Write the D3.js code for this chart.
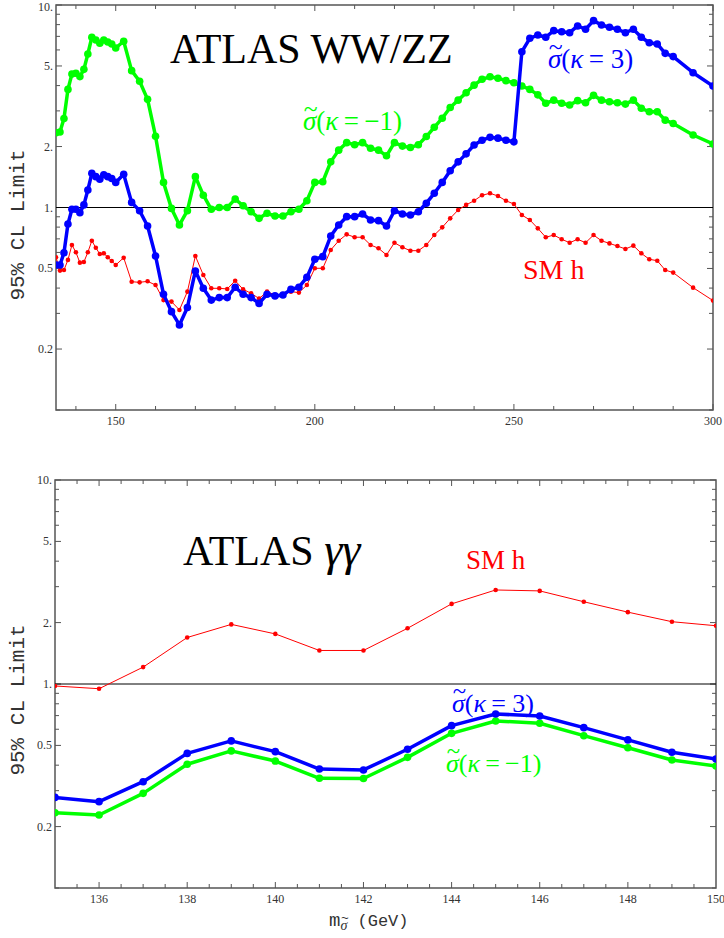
<!DOCTYPE html>
<html lang="en">
<head>
    <meta charset="UTF-8">
    <title>95% CL Limit - ATLAS WW/ZZ and gamma gamma</title>
    <script src="https://d3js.org/d3.v7.min.js"></script>
    <style>
        body { margin: 0; background: #fff; }
        svg { display: block; }
        .tick-label { font-family: "Liberation Serif", serif; font-size: 12px; fill: #333; }
        .ylab { font-family: "Liberation Mono", monospace; font-size: 21px; fill: #333; }
    </style>
</head>
<body>
    <div id="chart-container"></div>
    <script>
        // ---- data ----
        // top panel: ATLAS WW/ZZ
        const wwMass = [135, 136, 137, 138, 139, 140, 141, 142, 143, 144, 145, 146, 147, 148, 149, 150,
            152, 154, 156, 158, 160, 162, 164, 166, 168, 170, 172, 174, 176, 178, 180,
            182, 184, 186, 188, 190, 192, 194, 196, 198, 200, 202, 204, 206, 208, 210,
            212, 214, 216, 218, 220, 222, 224, 226, 228, 230, 232, 234, 236, 238, 240,
            242, 244, 246, 248, 250, 252, 254, 256, 258, 260, 262, 264, 266, 268, 270,
            272, 274, 276, 278, 280, 282, 284, 286, 288, 290, 295, 300];
        const wwKappaM1 = [2.34, 2.36, 2.75, 3.83, 4.56, 4.60, 4.43, 4.81, 5.73, 6.93, 6.72, 6.47, 6.72, 6.57, 6.42, 6.13,
            6.62, 4.74, 4.20, 3.42, 2.25, 1.33, 0.99, 0.82, 0.965, 1.42, 1.15, 0.98, 1.00, 1.00, 1.10,
            1.02, 0.953, 0.884, 0.936, 0.908, 0.908, 0.953, 0.98, 1.08, 1.33, 1.34, 1.68, 1.92, 2.09, 2.04,
            2.09, 1.96, 1.92, 1.80, 2.09, 2.01, 1.98, 2.04, 2.24, 2.49, 2.76, 3.12, 3.39, 3.69, 4.02,
            4.30, 4.42, 4.35, 4.23, 4.13, 3.98, 3.83, 3.60, 3.27, 3.39, 3.27, 3.21, 3.37, 3.29, 3.58,
            3.39, 3.33, 3.29, 3.24, 3.39, 3.09, 2.97, 2.97, 2.70, 2.60, 2.28, 2.06];
        const wwKappa3 = [0.52, 0.52, 0.598, 0.829, 0.98, 0.98, 0.943, 1.03, 1.22, 1.475, 1.42, 1.38, 1.45, 1.42, 1.39, 1.33,
            1.46, 1.06, 0.964, 0.81, 0.576, 0.373, 0.306, 0.263, 0.321, 0.486, 0.399, 0.349, 0.359, 0.359, 0.404,
            0.373, 0.359, 0.336, 0.373, 0.366, 0.37, 0.394, 0.404, 0.452, 0.555, 0.572, 0.723, 0.82, 0.901, 0.901,
            0.929, 0.868, 0.861, 0.81, 0.964, 0.929, 0.918, 0.953, 1.05, 1.175, 1.33, 1.52, 1.68, 1.84, 2.035,
            2.15, 2.22, 2.20, 2.15, 2.11, 5.88, 6.85, 7.11, 6.93, 7.47, 7.38, 7.30, 7.88, 7.59, 8.37,
            7.97, 7.76, 7.59, 7.30, 7.59, 6.93, 6.51, 6.42, 5.77, 5.56, 4.63, 3.98];
        const wwSM = [0.568, 0.488, 0.491, 0.551, 0.653, 0.601, 0.534, 0.538, 0.601, 0.685, 0.633, 0.589, 0.594, 0.568, 0.544, 0.52,
            0.565, 0.43, 0.427, 0.432, 0.414, 0.349, 0.343, 0.312, 0.384, 0.576, 0.464, 0.399, 0.399, 0.396, 0.435,
            0.394, 0.377, 0.355, 0.384, 0.37, 0.374, 0.384, 0.38, 0.414, 0.501, 0.501, 0.617, 0.685, 0.737, 0.713,
            0.713, 0.653, 0.629, 0.583, 0.67, 0.636, 0.612, 0.612, 0.653, 0.731, 0.798, 0.884, 0.972, 1.03, 1.08,
            1.15, 1.175, 1.14, 1.08, 1.04, 0.918, 0.868, 0.789, 0.713, 0.731, 0.697, 0.67, 0.697, 0.67, 0.731,
            0.685, 0.665, 0.645, 0.624, 0.648, 0.594, 0.555, 0.546, 0.491, 0.477, 0.402, 0.347];

        // bottom panel: ATLAS gamma gamma
        const ggMass = [135, 136, 137, 138, 139, 140, 141, 142, 143, 144, 145, 146, 147, 148, 149, 150];
        const ggSM = [0.978, 0.948, 1.21, 1.69, 1.96, 1.76, 1.46, 1.46, 1.875, 2.47, 2.89, 2.86, 2.53, 2.25, 2.02, 1.93];
        const ggKappa3 = [0.278, 0.265, 0.332, 0.457, 0.526, 0.466, 0.383, 0.379, 0.479, 0.625, 0.713, 0.697, 0.611, 0.532, 0.463, 0.429];
        const ggKappaM1 = [0.234, 0.228, 0.291, 0.404, 0.47, 0.419, 0.345, 0.344, 0.437, 0.573, 0.659, 0.642, 0.558, 0.487, 0.424, 0.396];

        // tick labels
        const yLabelTicks = [0.2, 0.5, 1, 2, 5, 10];
        const yLabelText = ["0.2", "0.5", "1.", "2.", "5.", "10."];
        const yMinorTicks = [0.1, 0.2, 0.3, 0.4, 0.5, 0.6, 0.7, 0.8, 0.9, 1, 2, 3, 4, 5, 6, 7, 8, 9, 10];
        const wwXLabels = [150, 200, 250, 300];
        const ggXLabels = [136, 138, 140, 142, 144, 146, 148, 150];

        const W = 724, H = 938;
        const svg = d3.select("#chart-container").append("svg")
            .attr("width", W).attr("height", H);

        const green = "#00ff00", blue = "#0000ff", red = "#ff0000";

        function drawPanel(p) {
            const x = d3.scaleLinear().domain(p.xDomain).range([p.left, p.right]);
            const y = d3.scaleLog().domain([0.1, 10]).range([p.bottom, p.top]);
            const g = svg.append("g");

            const clipId = "clip-" + p.id;
            svg.append("clipPath").attr("id", clipId)
                .append("rect")
                .attr("x", p.left).attr("y", p.top)
                .attr("width", p.right - p.left).attr("height", p.bottom - p.top);

            // inward ticks on all four sides
            const ticks = g.append("g").attr("stroke", "#555").attr("stroke-width", 1);
            p.xMinor.forEach(v => {
                const major = p.xLabels.includes(v);
                const len = major ? 6 : 4;
                ticks.append("line").attr("x1", x(v)).attr("x2", x(v))
                    .attr("y1", p.bottom).attr("y2", p.bottom - len);
                ticks.append("line").attr("x1", x(v)).attr("x2", x(v))
                    .attr("y1", p.top).attr("y2", p.top + len);
            });
            yMinorTicks.forEach(v => {
                const major = yLabelTicks.includes(v);
                const len = major ? 6 : 4;
                ticks.append("line").attr("y1", y(v)).attr("y2", y(v))
                    .attr("x1", p.left).attr("x2", p.left + len);
                ticks.append("line").attr("y1", y(v)).attr("y2", y(v))
                    .attr("x1", p.right).attr("x2", p.right - len);
            });

            // tick labels
            g.selectAll(".xl").data(p.xLabels).enter().append("text")
                .attr("class", "tick-label")
                .attr("x", d => x(d)).attr("y", p.bottom + 15)
                .attr("text-anchor", "middle")
                .text(d => d);
            g.selectAll(".yl").data(yLabelTicks).enter().append("text")
                .attr("class", "tick-label")
                .attr("x", p.left - 3).attr("y", d => Math.max(y(d) + 4, 11))
                .attr("text-anchor", "end")
                .text((d, i) => yLabelText[i]);

            // frame
            g.append("rect")
                .attr("x", p.left).attr("y", p.top)
                .attr("width", p.right - p.left).attr("height", p.bottom - p.top)
                .attr("fill", "none").attr("stroke", "#555").attr("stroke-width", 1.5);

            // reference line at 1
            g.append("line")
                .attr("x1", p.left).attr("x2", p.right)
                .attr("y1", y(1)).attr("y2", y(1))
                .attr("stroke", "#000").attr("stroke-width", 1);

            // y axis title
            g.append("text").attr("class", "ylab")
                .attr("transform", `translate(24,${p.yTitleY}) rotate(-90)`)
                .attr("text-anchor", "middle")
                .text("95% CL Limit");

            const line = d3.line().x(d => x(d[0])).y(d => y(d[1]));
            const plot = svg.append("g").attr("clip-path", `url(#${clipId})`);

            p.series.forEach(s => {
                const pts = p.mass.map((m, i) => [m, s.values[i]]);
                plot.append("path").datum(pts)
                    .attr("fill", "none")
                    .attr("stroke", s.color)
                    .attr("stroke-width", s.width)
                    .attr("stroke-linejoin", "round")
                    .attr("d", line);
                plot.selectAll(null).data(pts).enter().append("circle")
                    .attr("cx", d => x(d[0])).attr("cy", d => y(d[1]))
                    .attr("r", s.r).attr("fill", s.color);
            });
        }

        const wwMinor = [140, 150, 160, 170, 180, 190, 200, 210, 220, 230, 240, 250, 260, 270, 280, 290, 300];
        const ggMinor = [135.5, 136, 136.5, 137, 137.5, 138, 138.5, 139, 139.5, 140, 140.5, 141, 141.5, 142,
            142.5, 143, 143.5, 144, 144.5, 145, 145.5, 146, 146.5, 147, 147.5, 148, 148.5, 149, 149.5];

        drawPanel({
            id: "ww", left: 56, right: 713, top: 5, bottom: 410,
            xDomain: [135, 300], xLabels: wwXLabels, xMinor: wwMinor,
            mass: wwMass, yTitleY: 225,
            series: [
                { values: wwKappaM1, color: green, width: 3.5, r: 3.8 },
                { values: wwSM, color: red, width: 1, r: 2.3 },
                { values: wwKappa3, color: blue, width: 3.5, r: 3.8 }
            ]
        });

        drawPanel({
            id: "gg", left: 55, right: 716, top: 480, bottom: 888,
            xDomain: [135, 150], xLabels: ggXLabels, xMinor: ggMinor,
            mass: ggMass, yTitleY: 700,
            series: [
                { values: ggKappaM1, color: green, width: 3.5, r: 3.8 },
                { values: ggSM, color: red, width: 1, r: 2.3 },
                { values: ggKappa3, color: blue, width: 3.5, r: 3.8 }
            ]
        });

        // ---- annotations ----
        const serif = "'Liberation Serif', 'Times New Roman', serif";
        function label(x0, y0, size, color, parts) {
            const t = svg.append("text").attr("x", x0).attr("y", y0)
                .attr("font-family", serif).attr("font-size", size).attr("fill", color);
            parts.forEach(pt => {
                const s = t.append("tspan").text(pt[0]);
                if (pt[1]) s.attr("font-style", "italic");
                if (pt[2]) s.attr("font-size", pt[2]);
            });
            return t;
        }

        // put a tilde tspan over the previous glyph, inside the same text element
        function addTilde(t, charTspan, tildeSize, lift) {
            const wc = charTspan.node().getComputedTextLength();
            const tl = t.append("tspan").attr("font-size", tildeSize).attr("font-style", "normal").text("~");
            const wt = tl.node().getComputedTextLength();
            tl.attr("dx", -(wc / 2 + wt / 2) + 1).attr("dy", -lift);
            return { back: wc / 2 - wt / 2 - 1, lift: lift };
        }

        function sigmaLabel(x0, y0, size, color, rest) {
            const t = svg.append("text").attr("x", x0).attr("y", y0)
                .attr("font-family", serif).attr("font-size", size).attr("fill", color);
            const sg = t.append("tspan").attr("font-style", "italic").text("\u03C3");
            const tt = addTilde(t, sg, size * 0.95, size * 0.5);
            t.append("tspan").attr("dx", tt.back).attr("dy", tt.lift).text("(");
            t.append("tspan").attr("font-style", "italic").text("\u03BA");
            t.append("tspan").text(rest);
        }

        label(170, 63, 42, "#000", [["ATLAS WW/ZZ"]]);
        sigmaLabel(303, 130, 27, green, "\u2009=\u2009\u22121)");
        sigmaLabel(548, 68, 27, blue, "\u2009= 3)");
        label(523, 279, 28, red, [["SM h"]]);

        label(183, 565, 42, "#000", [["ATLAS "], ["\u03B3\u03B3", true, 46]]);
        label(466, 569, 27, red, [["SM h"]]);
        sigmaLabel(452, 712, 26, blue, "\u2009= 3)");
        sigmaLabel(446, 772, 26, green, "\u2009=\u2009\u22121)");

        // x axis title: m with subscript sigma-tilde, then (GeV)
        const xt = svg.append("text").attr("x", 329).attr("y", 926)
            .attr("font-family", "'Liberation Mono', monospace").attr("font-size", 19).attr("fill", "#333");
        xt.append("tspan").text("m");
        const sub = xt.append("tspan").attr("dy", 4).attr("font-family", serif).attr("font-style", "italic")
            .attr("font-size", 14).text("\u03C3");
        const st = addTilde(xt, sub, 13, 8);
        xt.append("tspan").attr("dx", st.back).attr("dy", -4 + st.lift).attr("font-size", 17).text(" (GeV)");
    </script>
</body>
</html>
